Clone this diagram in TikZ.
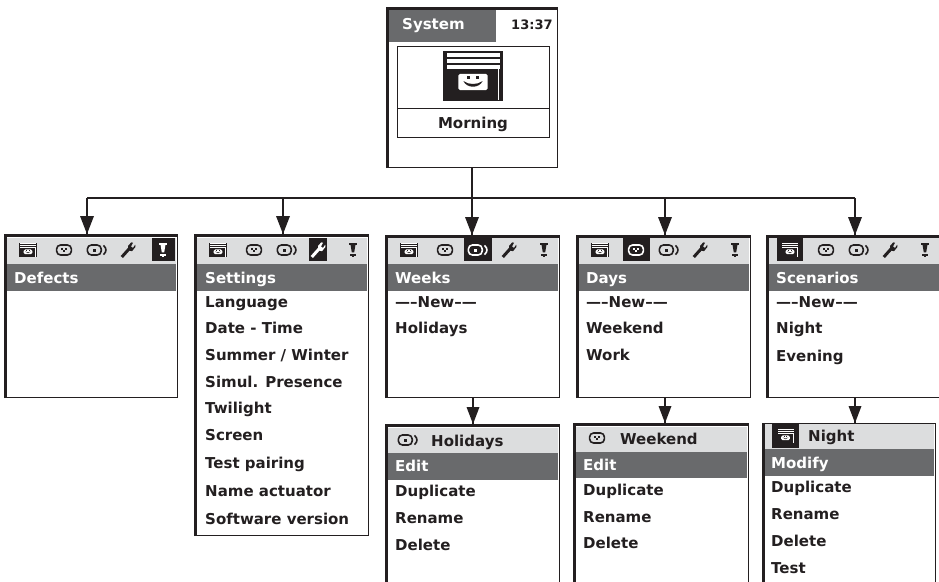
\documentclass[tikz,border=0pt]{standalone}
\usepackage{fontspec}
\setmainfont{DejaVu Sans}
\usepackage{tikz}

\definecolor{barlight}{HTML}{DCDDDE}
\definecolor{bardark}{HTML}{696A6C}
\definecolor{ink}{HTML}{231F20}

\tikzset{
    panel/.style={draw=ink, line width=1.1pt, fill=white, inner sep=0pt, anchor=north west},
    edge/.style={draw=ink, line width=3pt},
    link/.style={draw=ink, line width=2.2pt},
    tip/.style={fill=ink, draw=none},
    rowtext/.style={anchor=base west, inner sep=0pt, text=ink, font=\fontsize{15}{17}\selectfont\bfseries},
    titletext/.style={rowtext, text=white},
    pics/blindicon/.style={code={
        \fill[ink] (-9.9,-8.3) rectangle (9.9,8.3);
        \foreach \ytop in {-7.7,-5.7,-3.7} \fill[white] (-8.6,\ytop) rectangle (8.9,\ytop+1.5);
        \fill[white] (8.2,-2.2) rectangle (8.7,8);
        \fill[white, rounded corners=1.6pt] (-4.9,-0.7) rectangle (4.9,4.7);
        \fill[ink] (-1.9,0) rectangle (-0.9,1);
        \fill[ink] (0.9,0) rectangle (1.9,1);
        \fill[ink] (-3.2,1.7) .. controls (-1.2,3) and (1.2,3) .. (3.2,1.7) .. controls (2,4.2) and (-2,4.2) .. (-3.2,1.7);
    }},
    pics/clockicon/.style={code={
        \draw[line width=1.6pt, rounded corners=4pt] (-7.4,-5) rectangle (7.4,5);
        \fill (-2.8,-1.8) rectangle (-1,0);
        \fill (1,-1.8) rectangle (2.8,0);
        \fill (-1.2,0) rectangle (1.2,1.8);
    }},
    pics/weekicon/.style={code={
        \draw[line width=1.6pt, rounded corners=4pt] (-9.6,-5) rectangle (4.2,5);
        \fill (-4.2,-1.5) rectangle (-1.2,1.5);
        \draw[line width=1.6pt] (6.4,-4.6) .. controls (9.8,-2) and (9.8,2) .. (6.4,4.6);
    }},
    pics/wrenchicon/.style={code={
        \draw[line width=3pt] (-6.2,7) -- (2.4,-2.6);
        \fill (0,-4) -- (3.2,-7.6) -- (5,-7.2) -- (3,-3.6) -- (5,-2) -- (7.2,-5.4) -- (7.4,-3) -- (4,1.2) -- (0.6,0.4) -- cycle;
    }},
    pics/warnicon/.style={code={
        \fill (-3.6,-7) rectangle (3.6,-4.8);
        \fill (-2.4,-4.8) -- (2.4,-4.8) -- (1.2,2.4) -- (-1.2,2.4) -- cycle;
        \fill (-3,3.8) rectangle (3,5.8);
        \fill (-1.4,5.8) rectangle (1.4,7);
    }}
}

% frame of one screen: name, left, top, right, bottom
\newcommand{\menubox}[5]{
    \node[panel, minimum width={#4pt-#2pt}, minimum height={#5pt-#3pt}] (#1) at (#2,#3) {};
    \draw[edge] ([xshift=0.5pt]#1.south west) -- ([xshift=0.5pt,yshift=-1pt]#1.north west) -- ([yshift=-1pt]#1.north east);
}
% icon strip with one icon marked: left, right, top, marked offset, width of its mark
\newcommand{\iconrow}[5]{
    \fill[barlight] (#1+2,#3) rectangle (#2-1,264);
    \fill[bardark] (#1+2,264) rectangle (#2-1,291);
    \fill[ink] (#1+#4-#5/2,#3) rectangle (#1+#4+#5/2,261);
    \foreach \off/\kind/\sz in {23/blindicon/.9,59/clockicon/1,92/weekicon/1,123/wrenchicon/1,158/warnicon/1} {
        \ifnum\off=#4\relax
            \pic[white, scale=\sz] at (#1+\off,250) {\kind};
        \else
            \pic[ink, scale=\sz] at (#1+\off,250) {\kind};
        \fi
    }
}

\begin{document}
\begin{tikzpicture}[x=1pt,y=-1pt]
    \useasboundingbox (0,0) rectangle (939,581);

    % top screen
    \menubox{sys}{387}{7}{557}{167}
    \fill[bardark] (389,10) rectangle (496,42);
    \node[titletext] (systitle) at (402,29) {System};
    \node[rowtext, font=\fontsize{13}{15}\selectfont\bfseries] (systime) at (511,29) {13:37};
    \node[draw=ink, line width=.7pt, minimum width=152pt, minimum height=91pt, inner sep=0pt, anchor=north west] (sysinner) at (397,46) {};
    \draw[ink, line width=.7pt] (397,108) -- (549,108);
    \pic[scale=3] at (473,76) {blindicon};
    \node[rowtext, anchor=base] (sysname) at (473,128) {Morning};

    % screens of the second row
    \menubox{defects}{5}{234}{177}{397}
    \iconrow{5}{177}{238}{158}{23}
    \node[titletext] (defectstitle) at (14,283) {Defects};

    \menubox{settings}{195}{234}{368}{535}
    \iconrow{195}{368}{238}{123}{18}
    \node[titletext] (settingstitle) at (205,283) {Settings};
    \foreach \lab/\ypos [count=\i] in {Language/307,Date - Time/333,{Summer / Winter}/360,Simul. Presence/387,Twilight/413,Screen/440,Test pairing/468,Name actuator/496,Software version/524}
        \node[rowtext] (settings\i) at (205,\ypos) {\lab};

    \menubox{weeks}{386}{235}{559}{397}
    \iconrow{386}{559}{238}{92}{28}
    \node[titletext] (weekstitle) at (395,283) {Weeks};
    \foreach \lab/\ypos [count=\i] in {---{}--New--{}---/307,Holidays/333}
        \node[rowtext] (weeks\i) at (395,\ypos) {\lab};

    \menubox{days}{577}{235}{750}{397}
    \iconrow{577}{750}{238}{59}{27}
    \node[titletext] (daystitle) at (586,283) {Days};
    \foreach \lab/\ypos [count=\i] in {---{}--New--{}---/307,Weekend/333,Work/360}
        \node[rowtext] (days\i) at (586,\ypos) {\lab};

    \menubox{scen}{767}{235}{945}{397}
    \iconrow{767}{945}{238}{23}{26}
    \node[titletext] (scentitle) at (776,283) {Scenarios};
    \foreach \lab/\ypos [count=\i] in {---{}--New--{}---/307,Night/333,Evening/361}
        \node[rowtext] (scen\i) at (776,\ypos) {\lab};

    % screens of the third row, cut off by the page
    \menubox{holidays}{386}{424}{559}{600}
    \fill[barlight] (388,428) rectangle (558,453);
    \fill[bardark] (388,453) rectangle (558,480);
    \pic[ink] at (408,440) {weekicon};
    \node[rowtext] (holidaystitle) at (431,446) {Holidays};
    \node[titletext] (holidays1) at (395,471.5) {Edit};
    \foreach \lab/\ypos [count=\i from 2] in {Duplicate/496,Rename/523,Delete/550}
        \node[rowtext] (holidays\i) at (395,\ypos) {\lab};

    \menubox{weekend}{574}{423}{748}{600}
    \fill[barlight] (576,427) rectangle (747,452);
    \fill[bardark] (576,452) rectangle (747,478);
    \pic[ink] at (597,438) {clockicon};
    \node[rowtext] (weekendtitle) at (620,444) {Weekend};
    \node[titletext] (weekend1) at (583,470.5) {Edit};
    \foreach \lab/\ypos [count=\i from 2] in {Duplicate/495,Rename/522,Delete/548}
        \node[rowtext] (weekend\i) at (583,\ypos) {\lab};

    % this one has no heavy top edge
    \node[panel, minimum width=172pt, minimum height=177pt] (night) at (763,423) {};
    \draw[edge] ([xshift=0.5pt]night.south west) -- ([xshift=0.5pt]night.north west);
    \fill[barlight] (765,424) rectangle (934,449);
    \fill[bardark] (765,449) rectangle (934,476);
    \fill[ink] (772,424) rectangle (799,448);
    \pic[white, scale=.9] at (785.5,436) {blindicon};
    \node[rowtext] (nighttitle) at (808,441) {Night};
    \node[titletext] (night1) at (771,468) {Modify};
    \foreach \lab/\ypos [count=\i from 2] in {Duplicate/492,Rename/519,Delete/546,Test/573}
        \node[rowtext] (night\i) at (771,\ypos) {\lab};

    % connectors
    \coordinate (bus) at (472,198);
    \coordinate (busleft) at (87,198);
    \coordinate (busright) at (855,198);
    \draw[link] (sys.south-|bus) -- (bus);
    \draw[link] (busleft) -- (busright);
    \foreach \target/\xpos in {defects/87,settings/283,weeks/472,days/665,scen/855} {
        \coordinate (drop) at (\xpos,198);
        \draw[link] (drop) -- (drop|-\target.north);
        \fill[tip] (drop|-\target.north) -- ++(-7,-18) -- ++(14,0) -- cycle;
    }
    \foreach \from/\target/\xpos in {weeks/holidays/473,days/weekend/665,scen/night/855} {
        \coordinate (drop) at (\xpos,400);
        \draw[link] (drop|-\from.south) -- (drop|-\target.north);
        \fill[tip] (drop|-\target.north) -- ++(-6.5,-17) -- ++(13,0) -- cycle;
    }
\end{tikzpicture}
\end{document}
